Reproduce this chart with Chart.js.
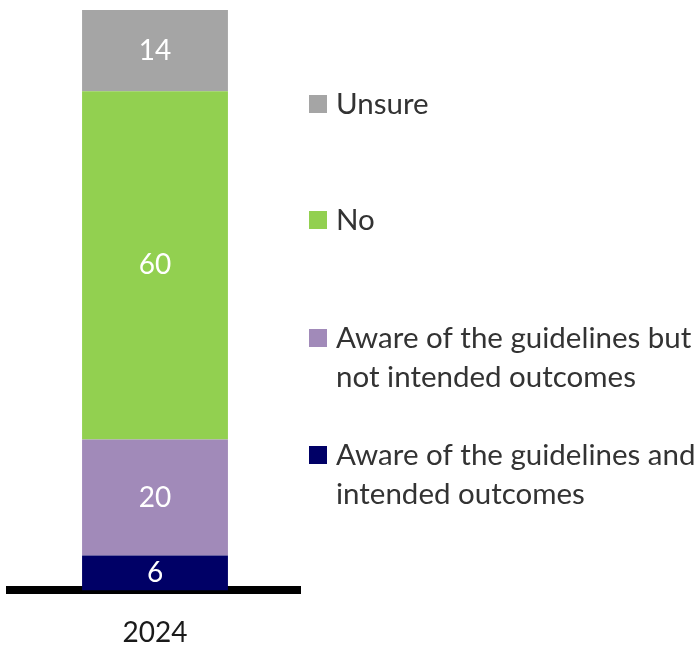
<!DOCTYPE html>
<html>
<head>
<meta charset="utf-8">
<title>Awareness of guidelines, 2024</title>
<script src="https://cdn.jsdelivr.net/npm/chart.js@4"></script>
<style>
  html, body { margin: 0; padding: 0; background: #fff; }
  #wrap { width: 698px; height: 645px; position: relative; }
</style>
</head>
<body>
<div id="wrap"><canvas id="chart"></canvas></div>
<script>
"use strict";

// survey year on the x axis
const YEARS = ["2024"];
// responses, bottom of the stack first
const SERIES_NAMES = [
  "Aware of the guidelines and intended outcomes",
  "Aware of the guidelines but not intended outcomes",
  "No",
  "Unsure"
];
const SERIES_VALUES = [[6], [20], [60], [14]];
// how each legend label breaks over lines
const LEGEND_LINES = [
  ["Aware of the guidelines and", "intended outcomes"],
  ["Aware of the guidelines but", "not intended outcomes"],
  ["No"],
  ["Unsure"]
];
const SERIES_COLORS = ["#000066", "#A18AB9", "#92D050", "#A5A5A5"];

const FONT = "Lato, 'Open Sans', sans-serif";
const FONT_SIZE = 28;
const LEGEND_FONT_SIZE = 29.5;
const TEXT_COLOR = "#333333";

// legend sits in the right hand padding, top item first
const LEGEND_X = 309;
const LEGEND_BOX = 18;
const LEGEND_TEXT_X = 336;
const LEGEND_LINE_H = 39;
const LEGEND_ROWS_Y = [455, 338, 220, 104];

// white value labels in the middle of each segment
const valueLabels = {
  id: "valueLabels",
  afterDatasetsDraw(chart) {
    let ctx = chart.ctx;
    ctx.save();
    ctx.fillStyle = "#FFFFFF";
    ctx.font = FONT_SIZE + "px " + FONT;
    ctx.textAlign = "center";
    ctx.textBaseline = "middle";
    chart.data.datasets.forEach((ds, i) => {
      chart.getDatasetMeta(i).data.forEach((bar, j) => {
        let mid = (bar.y + bar.base) / 2;
        ctx.fillText(String(ds.data[j]), bar.x, mid);
      });
    });
    ctx.restore();
  }
};

const sideLegend = {
  id: "sideLegend",
  afterDraw(chart) {
    let ctx = chart.ctx;
    ctx.save();
    ctx.font = LEGEND_FONT_SIZE + "px " + FONT;
    ctx.textBaseline = "middle";
    chart.data.datasets.forEach((ds, i) => {
      let y = LEGEND_ROWS_Y[i];
      ctx.fillStyle = ds.backgroundColor;
      ctx.fillRect(LEGEND_X, y - LEGEND_BOX / 2, LEGEND_BOX, LEGEND_BOX);
      ctx.fillStyle = TEXT_COLOR;
      LEGEND_LINES[i].forEach((line, k) => {
        ctx.fillText(line, LEGEND_TEXT_X, y + k * LEGEND_LINE_H);
      });
    });
    ctx.restore();
  }
};

let datasets = SERIES_NAMES.map((name, i) => ({
  label: name,
  data: SERIES_VALUES[i],
  backgroundColor: SERIES_COLORS[i],
  borderWidth: 0,
  barPercentage: 0.503,
  categoryPercentage: 1
}));

new Chart(document.getElementById("chart"), {
  type: "bar",
  data: { labels: YEARS, datasets: datasets },
  options: {
    responsive: true,
    maintainAspectRatio: false,
    animation: false,
    layout: { padding: { left: 10, right: 398, top: 10, bottom: -31 } },
    plugins: {
      legend: { display: false },
      tooltip: { enabled: false }
    },
    scales: {
      x: {
        stacked: true,
        grid: { display: false, drawTicks: false },
        border: { display: true, color: "#000000", width: 8 },
        ticks: {
          color: "#1A1A1A",
          padding: 26,
          font: { family: FONT, size: FONT_SIZE }
        }
      },
      y: {
        stacked: true,
        display: false,
        min: 0,
        max: 100
      }
    }
  },
  plugins: [valueLabels, sideLegend]
});
</script>
</body>
</html>
